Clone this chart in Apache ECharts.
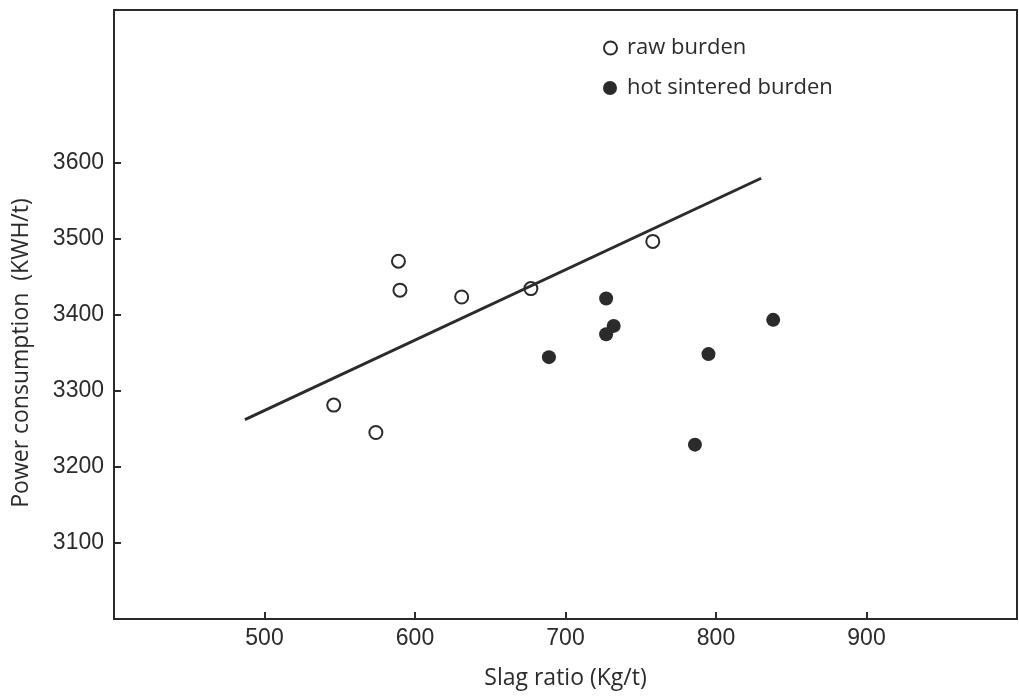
<!DOCTYPE html>
<html>
<head>
<meta charset="utf-8">
<title>Power consumption vs slag ratio</title>
<script src="https://cdn.jsdelivr.net/npm/echarts@6/dist/echarts.min.js"></script>
<style>
    *{margin:0;padding:0;}
    body{background:#fff;}
    #main{width:1019px;height:697px;}
</style>
</head>
<body>
<div id="main"></div>
<script>
// raw burden (open circles)
var rawX = [546, 574, 589, 590, 631, 677, 758];
var rawY = [3281, 3245, 3470, 3432, 3423, 3434, 3496];
// hot sintered burden (filled circles)
var hotX = [689, 727, 732, 727, 795, 838, 786];
var hotY = [3344, 3421, 3385, 3374, 3348, 3393, 3229];
// regression line ends
var lineX = [487, 830];
var lineY = [3262, 3579];
// tick labels
var xTicks = [500, 600, 700, 800, 900];
var yTicks = [3100, 3200, 3300, 3400, 3500, 3600];

function pairs(a, b) {
    var out = [];
    for (var i = 0; i < a.length; i++) out.push([a[i], b[i]]);
    return out;
}

var ink = '#2b2b2b';
var tickFont = 'Liberation Sans';
var nameFont = 'Open Sans';

var myChart = echarts.init(document.getElementById('main'));
var option = {
    animation: false,
    grid: {
        left: 114, right: 2, top: 10, bottom: 78,
        show: true, borderColor: ink, borderWidth: 2
    },
    legend: [{
        left: 598, top: 32,
        itemWidth: 13, itemHeight: 13,
        icon: 'circle',
        data: ['raw burden'],
        textStyle: {color: ink, fontSize: 22, fontFamily: nameFont, padding: [0, 0, 0, 5]}
    }, {
        left: 598, top: 72,
        itemWidth: 14, itemHeight: 14,
        icon: 'circle',
        data: ['hot sintered burden'],
        textStyle: {color: ink, fontSize: 22, fontFamily: nameFont, padding: [0, 0, 0, 5]}
    }],
    xAxis: {
        type: 'value',
        min: 400, max: 1000, interval: 100,
        name: 'Slag ratio (Kg/t)',
        nameLocation: 'middle',
        nameGap: 48,
        nameTextStyle: {color: ink, fontSize: 23, fontFamily: nameFont},
        axisLine: {lineStyle: {color: ink, width: 2}},
        axisTick: {inside: true, length: 7, lineStyle: {color: ink, width: 2}, customValues: xTicks},
        axisLabel: {color: ink, fontSize: 23, fontFamily: tickFont, margin: 8, customValues: xTicks},
        splitLine: {show: false}
    },
    yAxis: {
        type: 'value',
        min: 3000, max: 3800, interval: 100,
        axisLine: {lineStyle: {color: ink, width: 2}},
        axisTick: {inside: true, length: 7, lineStyle: {color: ink, width: 2}, customValues: yTicks},
        axisLabel: {
            color: ink, fontSize: 23, fontFamily: tickFont, margin: 10, customValues: yTicks,
            formatter: function (v) { return String(v); }
        },
        splitLine: {show: false}
    },
    graphic: [{
        type: 'text',
        x: 21, y: 353,
        rotation: Math.PI / 2,
        style: {
            text: 'Power consumption  (KWH/t)',
            fill: ink,
            font: '23px "Open Sans"',
            align: 'center',
            verticalAlign: 'middle'
        }
    }],
    series: [{
        name: 'fit',
        type: 'line',
        data: pairs(lineX, lineY),
        showSymbol: false,
        lineStyle: {color: ink, width: 3},
        silent: true
    }, {
        name: 'raw burden',
        type: 'scatter',
        data: pairs(rawX, rawY),
        symbolSize: 13,
        itemStyle: {color: '#fff', borderColor: ink, borderWidth: 2, opacity: 1}
    }, {
        name: 'hot sintered burden',
        type: 'scatter',
        data: pairs(hotX, hotY),
        symbolSize: 14,
        itemStyle: {color: ink, opacity: 1}
    }]
};
myChart.setOption(option);
</script>
</body>
</html>
